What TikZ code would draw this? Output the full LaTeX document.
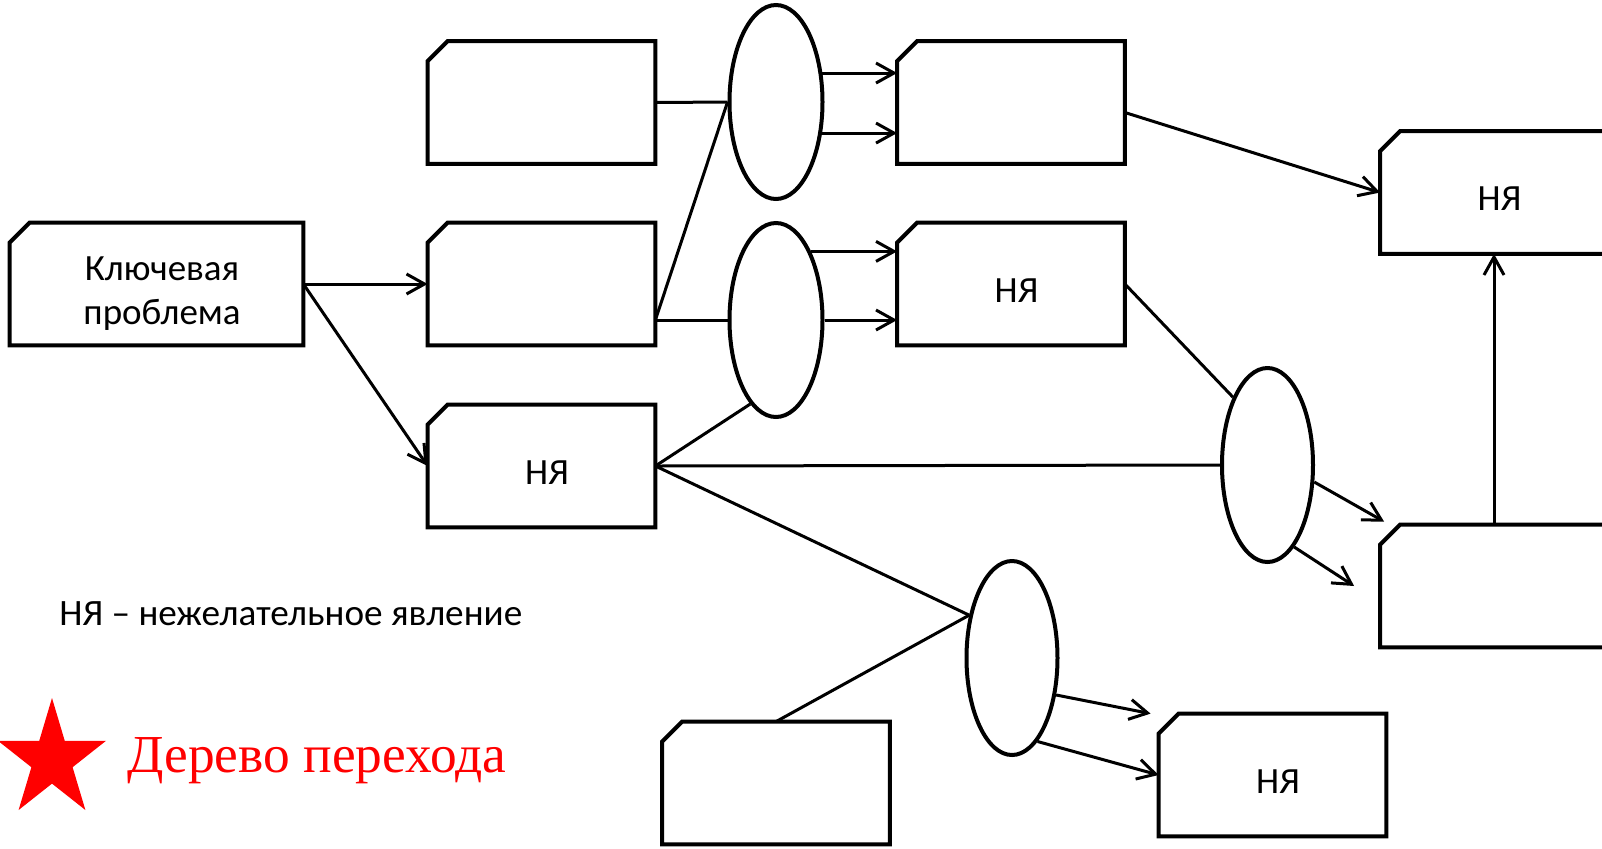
\documentclass[tikz,border=0pt]{standalone}
\usepackage{fontspec}
\setmainfont{Carlito}
\newfontfamily\serifred{Liberation Serif}
\usetikzlibrary{arrows.meta,shapes.geometric,calc}
\newcommand\boxpad{\rule{0pt}{18pt}\hspace*{5.5pt}}
\newcommand\kpad{\rule{0pt}{21.5pt}\hspace*{5.5pt}}
\newcommand\linepad{\hspace*{5.5pt}}
\begin{document}
\begin{tikzpicture}[x=0.5pt,y=-0.5pt,
  boxline/.style={line width=2pt, line join=miter},
  cbox/.style={rectangle, minimum width=113.5pt, minimum height=61pt, inner sep=0pt,
    font=\fontsize{18.5}{22}\selectfont, align=center},
  oval/.style={ellipse, draw, line width=2pt, minimum width=46.5pt, minimum height=97pt, inner sep=0pt},
  conn/.style={line width=1.5pt},
  arr/.style={conn, -{Straight Barb[length=9pt,width=10pt]}},
]
\useasboundingbox (0,0) rectangle (1602,848);

% boxes
\node[cbox, minimum width=146.5pt] (K) at (156.5,284) {\kpad Ключевая\\\linepad проблема};
\node[cbox] (A) at (541.5,102.5) {};
\node[cbox] (B) at (541.5,284) {};
\node[cbox] (N1) at (541.5,466) {\boxpad НЯ};
\node[cbox] (C) at (1011,102.5) {};
\node[cbox] (D) at (1011,284) {\boxpad НЯ};
\node[cbox] (E) at (1494,192.5) {\boxpad НЯ};
\node[cbox] (F) at (1494,586) {};
\node[cbox] (G) at (776,783) {};
\node[cbox] (H) at (1272.5,775) {\boxpad НЯ};

\foreach \n in {K,A,B,N1,C,D,E,F,G,H}
  \draw[boxline] ($(\n.north west)+(0,20)$) -- ($(\n.north west)+(20,0)$) -- (\n.north east)
     -- (\n.south east) -- (\n.south west) -- cycle;

% ovals
\node[oval] (O1) at (776,102) {};
\node[oval] (O2) at (776,320) {};
\node[oval, minimum width=45.5pt] (O3) at (1267.5,465) {};
\node[oval, minimum width=45.5pt] (O4) at (1012,658) {};

% connectors
\draw[arr] (K.east) -- (B.west);
\draw[arr] (K.east) -- (N1.west);
\draw[conn] (A.east) -- (O1.west);
\draw[conn] ($(B.east)+(0,36)$) -- (O1.west);
\draw[conn] ($(B.east)+(0,36)$) -- (O2.west);
\draw[arr] (O1.32) -- (O1.32 -| C.west);
\draw[arr] (O1.-34) -- (O1.-34 -| C.west);
\draw[arr] (O2.63) -- (O2.63 -| D.west);
\draw[arr] (O2.east) -- (O2.east -| D.west);
\draw[conn] (N1.east) -- (O2.253);
\draw[conn] (N1.east) -- (O3.west);
\draw[conn] (N1.east) -- (O4.135);
\draw[conn] (G.north) -- (O4.135);
\draw[conn] (D.east) -- (O3.117);
\draw[arr] ($(C.east)+(0,10)$) -- (E.west);
\coordinate (f1) at ($(F.north west)+(4,-3)$);
\draw[arr] (O3.-20) -- (f1);
\coordinate (f2) at ($(F.west)+(-26,0)$);
\draw[arr] (O3.-72) -- (f2);
\draw[arr] (F.north) -- (F.north |- E.south);
\coordinate (h1) at ($(H.north west)+(-8,0)$);
\draw[arr] (O4.-40) -- (h1);
\draw[arr] (O4.-73) -- (H.west);

% legend
\node[anchor=west, inner sep=0pt, font=\fontsize{18.6}{22}\selectfont] (leg) at (59,614) {НЯ – нежелательное явление};

% star and title
\fill[red] (52,698) -- (64.75,740.8) -- (106,740.8) -- (72.6,767.2) -- (85.4,810) -- (52,783.6)
  -- (18.6,810) -- (31.4,767.2) -- (-2,740.8) -- (39.25,740.8) -- cycle;
\node[anchor=base west, inner sep=0pt, text=red, font=\serifred\fontsize{26.7}{30}\selectfont] (title) at (127,772) {Дерево перехода};
\end{tikzpicture}
\end{document}
